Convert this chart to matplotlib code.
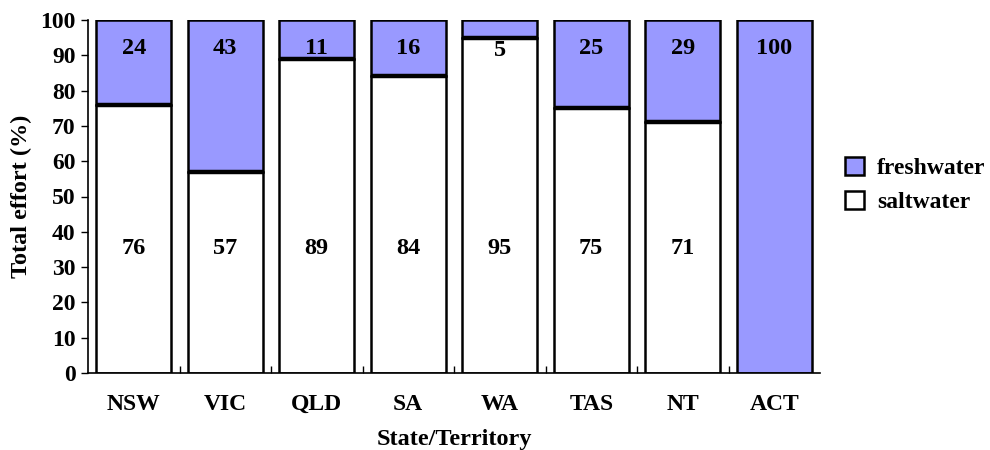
import matplotlib
matplotlib.use("Agg")
import matplotlib.pyplot as plt
import numpy as np

states = ["NSW", "VIC", "QLD", "SA", "WA", "TAS", "NT", "ACT"]
saltwater = [76, 57, 89, 84, 95, 75, 71, 0]
freshwater = [24, 43, 11, 16, 5, 25, 29, 100]

plt.rcParams['font.family'] = ['Liberation Serif', 'DejaVu Serif']
plt.rcParams['font.weight'] = 'bold'

fig = plt.figure(figsize=(9.9, 4.5), dpi=100)
ax = fig.add_axes([88/990, 1-373/450, (820-88)/990, (373-20)/450])

x = np.arange(len(states))
w = 0.82
purple = "#9999FF"
ax.bar(x, saltwater, w, color="white", edgecolor="black", linewidth=1.8, label="saltwater", zorder=2)
ax.bar(x, freshwater, w, bottom=saltwater, color=purple, edgecolor="black", linewidth=1.8, label="freshwater", zorder=2)
for i in range(len(states)):
    if 0 < saltwater[i] < 100:
        ax.plot([x[i]-w/2, x[i]+w/2], [saltwater[i], saltwater[i]], color="black", lw=3.2, zorder=3, solid_capstyle="butt")

for i in range(len(states)):
    if freshwater[i] >= 10:
        ax.text(x[i], 91.8, str(freshwater[i]), ha="center", va="center", fontsize=17.5, fontweight="bold", zorder=4)
    else:
        ax.text(x[i], 91.5, str(freshwater[i]), ha="center", va="center", fontsize=17.5, fontweight="bold", zorder=4)
    if saltwater[i] > 0:
        ax.text(x[i], 35.2, str(saltwater[i]), ha="center", va="center", fontsize=17.5, fontweight="bold", zorder=4)

ax.set_xlim(-0.5, len(states)-0.5)
ax.set_ylim(0, 100)
ax.set_yticks(np.arange(0, 101, 10))
ax.set_xticks(x)
ax.set_xticklabels(states)
ax.set_xticks(np.arange(0.5, len(states)-0.5, 1), minor=True)
ax.tick_params(axis='x', which='major', length=0, pad=15, labelsize=17)
ax.tick_params(axis='x', which='minor', direction='in', length=5, width=1)
ax.tick_params(axis='y', direction='out', length=5, width=1, labelsize=17, pad=4)
for lab in ax.get_xticklabels() + ax.get_yticklabels():
    lab.set_fontweight('bold')
ax.spines['top'].set_visible(False)
ax.spines['right'].set_visible(False)
ax.spines['left'].set_linewidth(1.2)
ax.spines['bottom'].set_linewidth(1.2)

ax.set_xlabel("State/Territory", fontsize=17.5, fontweight="bold", labelpad=10)
ax.set_ylabel("Total effort (%)", fontsize=17.5, fontweight="bold", labelpad=6)

handles, labels = ax.get_legend_handles_labels()
leg = fig.legend(handles[::-1], labels[::-1], loc="center left", bbox_to_anchor=(845/990, 1-185/450),
                 frameon=False, prop={'family': 'Liberation Serif', 'weight': 'bold', 'size': 17},
                 handlelength=0.8, handleheight=0.8, handletextpad=0.55, labelspacing=0.5,
                 borderpad=0, borderaxespad=0)

fig.savefig("out.png", dpi=100)
